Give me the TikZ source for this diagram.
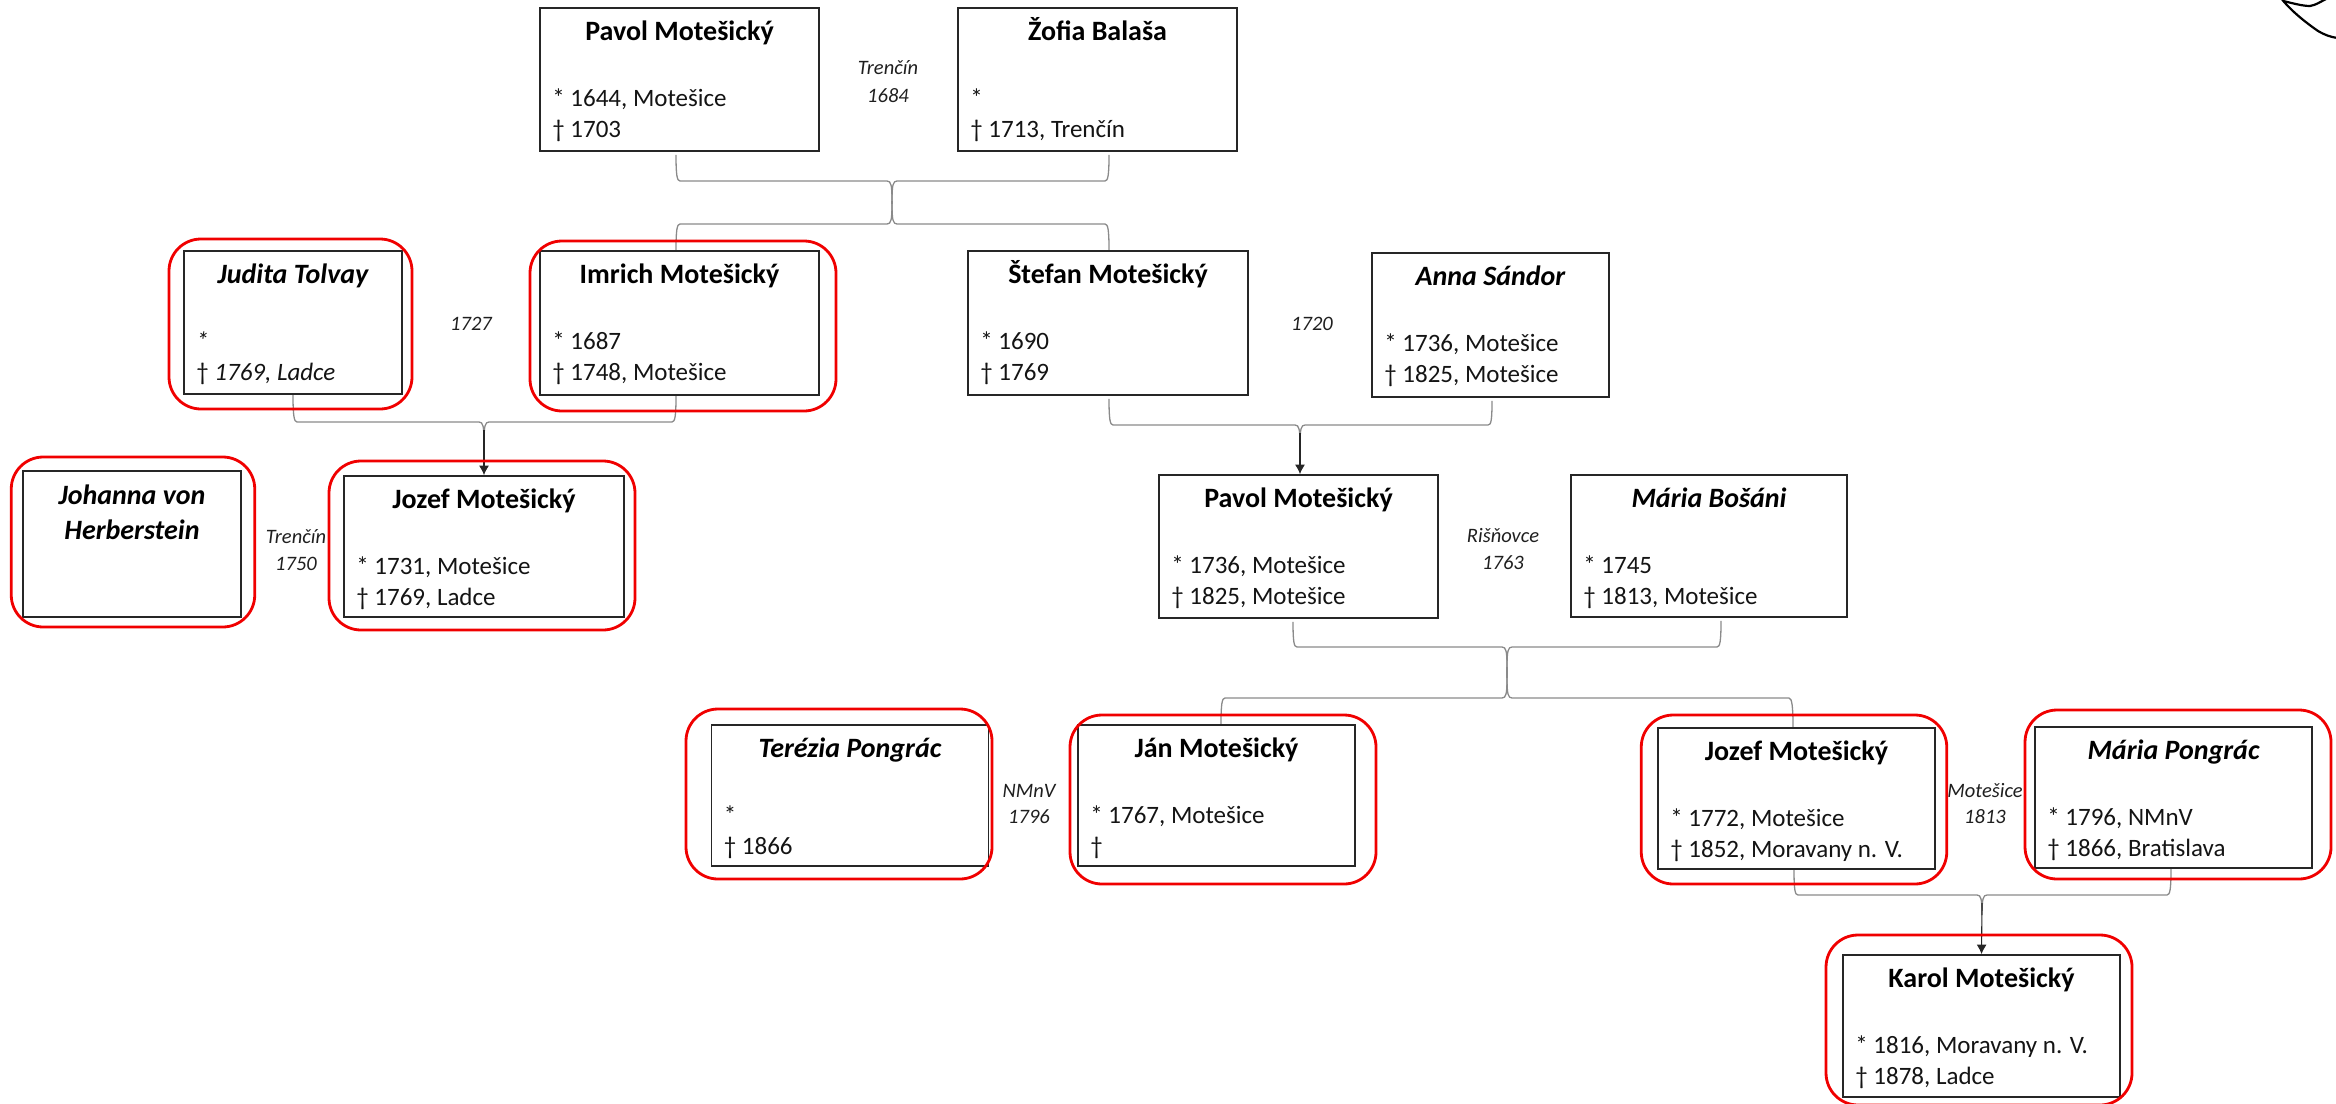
\documentclass[tikz,border=0pt]{standalone}
\usepackage{fontspec}
\setmainfont{Carlito}
\usetikzlibrary{arrows.meta}
\pgfdeclarelayer{connectors}
\pgfsetlayers{connectors,main}
\definecolor{linkgray}{HTML}{8A8A8A}
\definecolor{boxline}{HTML}{262626}
\definecolor{framered}{HTML}{F00000}
\tikzset{
  personbox/.style={draw=boxline,line width=1.8pt,fill=white,inner sep=0pt},
  redframe/.style={draw=framered,line width=2.8pt,rounded corners=32pt,inner sep=0pt},
  ptitle/.style={font=\fontsize{28}{35}\selectfont\bfseries,inner sep=0pt,anchor=base,text=black},
  pline/.style={font=\fontsize{25}{30}\selectfont,inner sep=0pt,anchor=base west,text=black!92},
  placelabel/.style={font=\fontsize{20.5}{26}\selectfont\itshape,inner sep=0pt,anchor=base,text=black!88},
  link/.style={draw=linkgray,line width=1.3pt},
  descent/.style={draw=black!85,line width=1.1pt,-{Latex[length=9.5pt,width=10pt]}}
}
% id, cx, cy, w, h, name, birth line, death line
\newcommand{\personcard}[8]{%
  \node[personbox,minimum width=#4,minimum height=#5] (#1) at (#2,#3) {};
  \node[ptitle] (#1-name) at ([yshift=-33.5]#1.north) {#6};
  \node[pline] (#1-birth) at ([xshift=13,yshift=-99]#1.north west) {#7};
  \node[pline] (#1-death) at ([xshift=13,yshift=-130]#1.north west) {#8};
}
% end point, junction on the bus, side s (+1: end is left of junction), v (direction along y: -1 down, +1 up)
\newcommand{\famleg}[4]{%
  \draw[link] (#1) .. controls ([yshift=(#4)*20]#1) and ([xshift=(#3)*1]#1 |- #2) .. ([xshift=(#3)*4]#1 |- #2)
    -- ([xshift=-(#3)*5]#2) .. controls ([xshift=-(#3)*1]#2) and ([yshift=(#4)*4]#2) .. ([yshift=(#4)*20]#2);
}
\begin{document}
\begin{tikzpicture}[x=1pt,y=-1pt]
\useasboundingbox (0,0) rectangle (2336,1103);
\clip (0,0) rectangle (2336,1103);

% layout anchors of the connectors
\coordinate (busA) at (892,181);
\coordinate (busAlow) at (892,224);
\coordinate (busB) at (484,422);
\coordinate (busC) at (1300,425);
\coordinate (busD) at (1507,647);
\coordinate (busDlow) at (1507,698);
\coordinate (busE) at (1982,895);

% cards
\personcard{pavolA}{679.5}{79.5}{279}{143}{Pavol Motešický}{* 1644, Motešice}{† 1703}
\personcard{zofia}{1097.5}{79.5}{279}{143}{Žofia Balaša}{*}{† 1713, Trenčín}
\personcard{imrich}{679.5}{323}{279}{144}{Imrich Motešický}{* 1687}{† 1748, Motešice}
\personcard{stefan}{1108}{323}{280}{144}{Štefan Motešický}{* 1690}{† 1769}
\personcard{judita}{293}{322.5}{218}{143}{\itshape Judita Tolvay}{\itshape *}{† \itshape 1769, Ladce}
\personcard{anna}{1490.5}{325}{237}{144}{\itshape Anna Sándor}{* 1736, Motešice}{† 1825, Motešice}
\personcard{jozefA}{484}{546.5}{280}{141}{Jozef Motešický}{* 1731, Motešice}{† 1769, Ladce}
\personcard{pavolB}{1298.5}{546.5}{279}{143}{Pavol Motešický}{* 1736, Motešice}{† 1825, Motešice}
\personcard{mariaB}{1709}{546}{276}{142}{\itshape Mária Bošáni}{* 1745}{† 1813, Motešice}
\personcard{tereza}{850}{795.5}{277}{141}{\itshape Terézia Pongrác}{*}{† 1866}
\personcard{jan}{1216.5}{795.5}{277}{141}{Ján Motešický}{* 1767, Motešice}{†}
\personcard{jozefB}{1796.5}{798.5}{277}{141}{Jozef Motešický}{* 1772, Motešice}{† 1852, Moravany n. V.}
\personcard{mariaP}{2173.5}{797.5}{277}{141}{\itshape Mária Pongrác}{* 1796, NMnV}{† 1866, Bratislava}
\personcard{karol}{1981.5}{1026}{277}{142}{Karol Motešický}{* 1816, Moravany n. V.}{† 1878, Ladce}
\node[personbox,minimum width=218,minimum height=146] (johanna) at (132,544) {};
\node[ptitle,anchor=center,align=center] (johanna-name) at ([yshift=-42]johanna.north) {\itshape Johanna von\\\itshape Herberstein};

% connector ends
\coordinate (pavolA-out) at ([xshift=-3.5,yshift=-3]pavolA.south);
\coordinate (zofia-out) at ([xshift=11.5,yshift=-3]zofia.south);
\coordinate (imrich-in) at ([xshift=-3.5]imrich.north);
\coordinate (stefan-in) at ([xshift=1]stefan.north);
\coordinate (judita-out) at (judita.south);
\coordinate (imrich-out) at ([xshift=-3.5]imrich.south);
\coordinate (stefan-out) at ([xshift=1,yshift=-3]stefan.south);
\coordinate (anna-out) at ([xshift=1.5,yshift=-3]anna.south);
\coordinate (pavolB-out) at ([xshift=-5.5,yshift=-3]pavolB.south);
\coordinate (mariaB-out) at ([xshift=12,yshift=-3]mariaB.south);
\coordinate (jan-in) at ([xshift=4.5]jan.north);
\coordinate (jozefB-in) at ([xshift=-3.5]jozefB.north);
\coordinate (jozefB-out) at ([xshift=-2.5]jozefB.south);
\coordinate (mariaP-out) at ([xshift=-2.5]mariaP.south);

% connectors, on a layer below the cards
\begin{pgfonlayer}{connectors}
\famleg{pavolA-out}{busA}{1}{-1}
\famleg{zofia-out}{busA}{-1}{-1}
\famleg{imrich-in}{busAlow}{1}{1}
\famleg{stefan-in}{busAlow}{-1}{1}
\draw[link] ([yshift=-20]busA) -- ([yshift=20]busAlow);

\famleg{judita-out}{busB}{1}{-1}
\famleg{imrich-out}{busB}{-1}{-1}
\draw[descent] ([yshift=-8]busB) -- (jozefA.north);

\famleg{stefan-out}{busC}{1}{-1}
\famleg{anna-out}{busC}{-1}{-1}
\draw[descent] ([yshift=-8]busC) -- ([xshift=1.5]pavolB.north);

\famleg{pavolB-out}{busD}{1}{-1}
\famleg{mariaB-out}{busD}{-1}{-1}
\famleg{jan-in}{busDlow}{1}{1}
\famleg{jozefB-in}{busDlow}{-1}{1}
\draw[link] ([yshift=-20]busD) -- ([yshift=20]busDlow);

\famleg{jozefB-out}{busE}{1}{-1}
\famleg{mariaP-out}{busE}{-1}{-1}
\draw[descent] ([yshift=-8]busE) -- (karol.north);
\end{pgfonlayer}

% place and date labels
\node[placelabel] (lab1a) at (888,74) {Trenčín};
\node[placelabel] (lab1b) at (888,102) {1684};
\node[placelabel] (lab2) at (471,330) {1727};
\node[placelabel] (lab3) at (1312,330) {1720};
\node[placelabel] (lab4a) at (296,543) {Trenčín};
\node[placelabel] (lab4b) at (296,570) {1750};
\node[placelabel] (lab5a) at (1503,542) {Rišňovce};
\node[placelabel] (lab5b) at (1503,569) {1763};
\node[placelabel] (lab6a) at (1029,797) {NMnV};
\node[placelabel] (lab6b) at (1029,823) {1796};
\node[placelabel] (lab7a) at (1985,797) {Motešice};
\node[placelabel] (lab7b) at (1985,823) {1813};

% red frames
\node[redframe,minimum width=243,minimum height=170] (judita-frame) at (290.5,324) {};
\node[redframe,minimum width=306,minimum height=170] (imrich-frame) at (683,326) {};
\node[redframe,minimum width=243.5,minimum height=170] (johanna-frame) at (133,542) {};
\node[redframe,minimum width=306,minimum height=169] (jozefA-frame) at (482,545.5) {};
\node[redframe,minimum width=306,minimum height=170] (tereza-frame) at (839,794) {};
\node[redframe,minimum width=306,minimum height=169] (jan-frame) at (1223,799.5) {};
\node[redframe,minimum width=305.5,minimum height=169] (jozefB-frame) at (1794,799.5) {};
\node[redframe,minimum width=306,minimum height=169] (mariaP-frame) at (2178,794.5) {};
\node[redframe,minimum width=306,minimum height=170] (karol-frame) at (1979,1020) {};

% scribble cut off at the top right corner
\draw[black,line width=2.2pt,line cap=round] (2281,-2) .. controls (2290,10) and (2305,22) .. (2318,31) .. controls (2325,35) and (2330,37) .. (2338,38);
\draw[black,line width=2.2pt] (2283,1) .. controls (2292,3) and (2302,6) .. (2310,6) .. controls (2316,5) and (2320,2) .. (2326,-1);
\end{tikzpicture}
\end{document}
